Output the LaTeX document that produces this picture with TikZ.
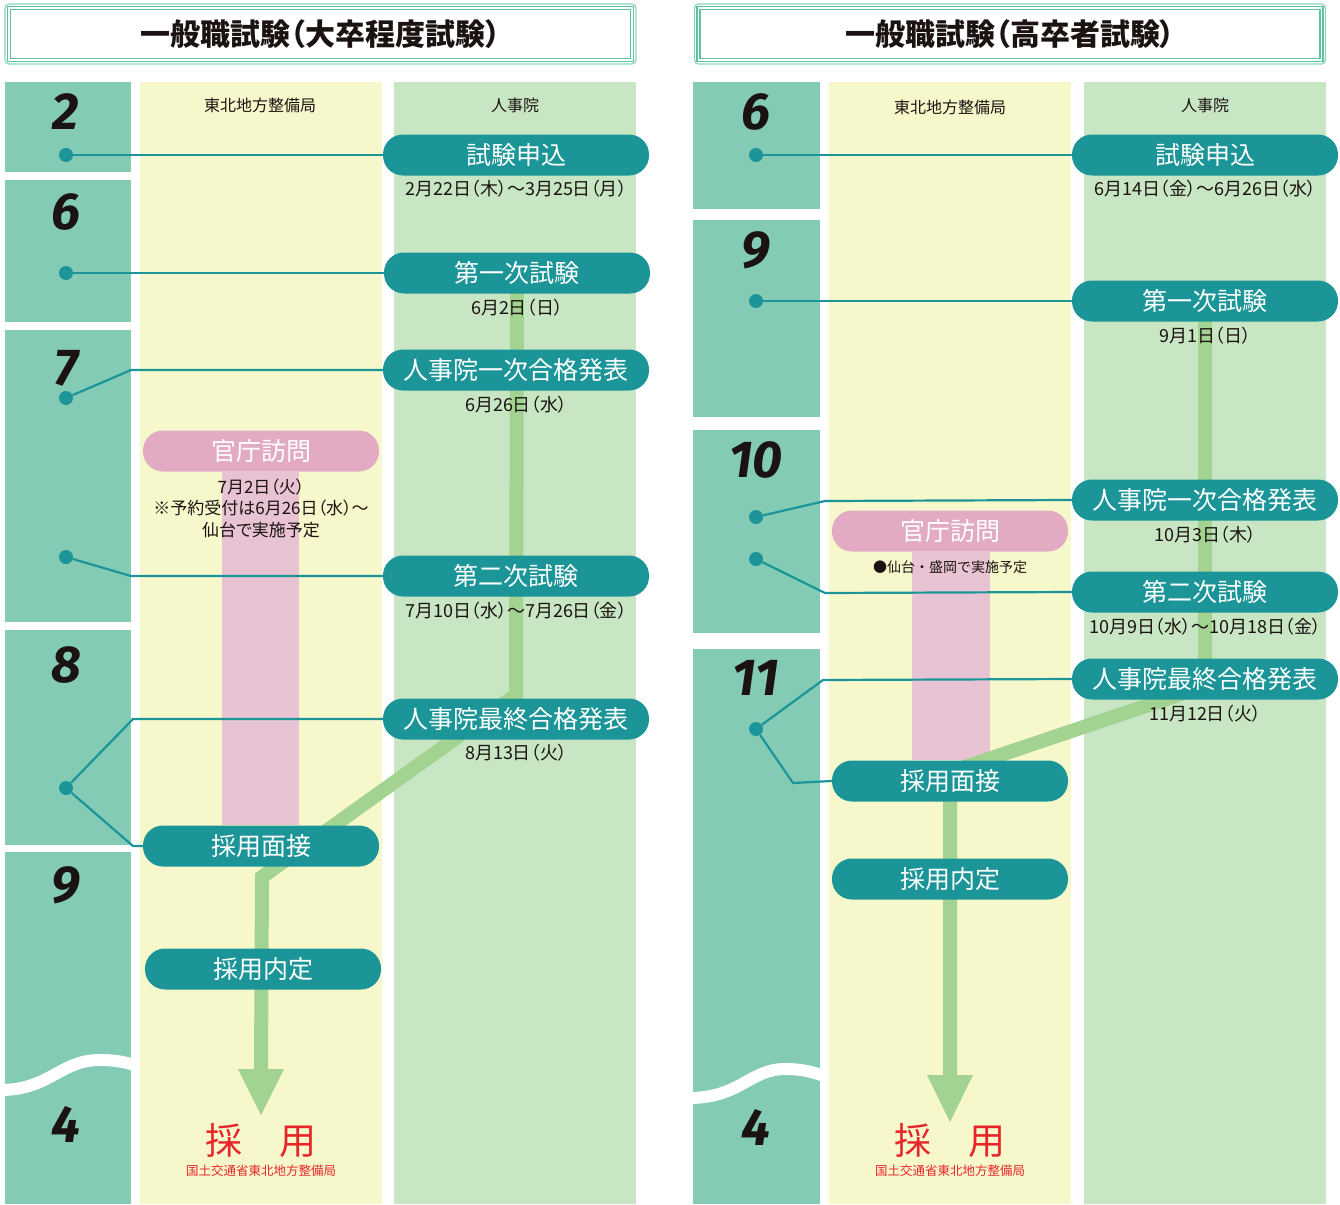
\documentclass[tikz,border=0pt]{standalone}
\usepackage{fontspec}
\setmainfont{Noto Sans CJK JP}[RawFeature=+palt]
\newfontfamily\numfont{Fira Sans}
\newfontfamily\plainfont{Noto Sans CJK JP}
\usetikzlibrary{arrows.meta, positioning}
\definecolor{monthBg}{HTML}{84CBB6}
\definecolor{colYellow}{HTML}{F6F8CC}
\definecolor{colGreen}{HTML}{C8E6C3}
\definecolor{pillTeal}{HTML}{1C9598}
\definecolor{pillPink}{HTML}{E2ABC3}
\definecolor{bandPink}{HTML}{E8C3D3}
\definecolor{flowGreen}{HTML}{A3D391}
\definecolor{frameGreen}{HTML}{5CC39A}
\definecolor{hireRed}{HTML}{E8262A}
\definecolor{inkText}{HTML}{1A1311}
\pgfdeclarelayer{base}
\pgfdeclarelayer{under}
\pgfsetlayers{base,under,main}

\begin{document}
\begin{tikzpicture}[
        x=1pt,
        y=-1pt,
        titleBox/.style={draw=frameGreen!70, line width=1.2pt, rounded corners=4pt,
            minimum width=631pt, minimum height=60pt, inner sep=0pt,
            font=\fontsize{30}{30}\selectfont\bfseries, text=inkText},
        frameIn/.style={draw=frameGreen, line width=1.5pt, double=white, double distance=1.5pt},
        monthNum/.style={font=\numfont\fontsize{52}{52}\selectfont\bfseries\itshape, text=inkText, inner sep=0pt},
        headText/.style={font=\fontsize{16}{16}\selectfont, text=inkText},
        tlDot/.style={circle, fill=pillTeal, minimum size=14pt, inner sep=0pt},
        pillBase/.style={rounded corners=20pt, minimum height=41pt, inner sep=0pt,
            text=white, font=\fontsize{25}{25}\selectfont},
        pillWide/.style={pillBase, fill=pillTeal, minimum width=266pt},
        pillNarrow/.style={pillBase, fill=pillTeal, minimum width=236pt},
        pillVisit/.style={pillBase, fill=pillPink, minimum width=236pt},
        dateText/.style={font=\fontsize{18}{21}\selectfont, text=inkText, inner sep=0pt, align=center},
        noteText/.style={font=\fontsize{17}{21.5}\selectfont, text=inkText, inner sep=0pt, align=center},
        conn/.style={draw=pillTeal, line width=2.2pt},
        flowLine/.style={draw=flowGreen, line width=14pt},
        band/.style={fill=bandPink},
        hireText/.style={text=hireRed, font=\fontsize{37}{37}\selectfont, inner sep=0pt},
        hireSub/.style={text=hireRed, font=\fontsize{12.5}{12.5}\selectfont, inner sep=0pt},
        waveCut/.style={draw=white, line width=12pt}
    ]
        \useasboundingbox (0,0) rectangle (1340,1204);

        % columns
        \begin{pgfonlayer}{base}
            \foreach \ya/\yb in {82/172, 180/322, 330/622, 630/845, 852/1204}
                \fill[monthBg] (5,\ya) rectangle (131,\yb);
            \foreach \ya/\yb in {82/209, 220/417, 430/633, 649/1204}
                \fill[monthBg] (693,\ya) rectangle (820,\yb);
            \fill[colYellow] (140,82) rectangle (382,1204);
            \fill[colGreen] (394,82) rectangle (636,1204);
            \fill[colYellow] (829,82) rectangle (1071,1204);
            \fill[colGreen] (1084,82) rectangle (1326,1204);
            \draw[waveCut] (0,1090) .. controls (50,1090) and (60,1060) .. (100,1060)
                .. controls (118,1060) and (128,1063) .. (138,1066);
            \draw[waveCut] (689,1098) .. controls (740,1098) and (750,1069) .. (785,1069)
                .. controls (805,1069) and (815,1073) .. (827,1077);
        \end{pgfonlayer}

        \node[titleBox] (titleL) at (320.5,34) {一般職試験（大卒程度試験）};
        \draw[frameIn] ([shift={(4.5,4.5)}]titleL.north west) rectangle ([shift={(-4.5,-4.5)}]titleL.south east);
        \node[titleBox] (titleR) at (1010,34) {一般職試験（高卒者試験）};
        \draw[frameIn] ([shift={(4.5,4.5)}]titleR.north west) rectangle ([shift={(-4.5,-4.5)}]titleR.south east);

        \foreach \y/\m in {112/2, 212/6, 368/7, 665/8, 885/9, 1124/4}
            \node[monthNum] (mL\m) at (66,\y) {\m};
        \foreach \y/\m in {112/6, 250/9, 460/10, 678/11, 1127/4}
            \node[monthNum] (mR\m) at (756,\y) {\m};

        \node[headText] (staffL) at (260,105) {東北地方整備局};
        \node[headText] (npaL) at (515,105) {人事院};
        \node[headText] (staffR) at (950,107) {東北地方整備局};
        \node[headText] (npaR) at (1205,105) {人事院};

        % left: 大卒程度
        \node[tlDot] (dL2) at (66,155) {};
        \node[tlDot] (dL6) at (66,273) {};
        \node[tlDot] (dL7a) at (66,398) {};
        \node[tlDot] (dL7b) at (66,557) {};
        \node[tlDot] (dL8) at (66,788) {};

        \node[pillWide] (applyL) at (516,155) {試験申込};
        \node[dateText, below=4pt of applyL] (applyDateL) {2月22日（木）～3月25日（月）};
        \node[pillWide] (exam1L) at (517,273) {第一次試験};
        \node[dateText, below=5pt of exam1L] (exam1DateL) {6月2日（日）};
        \node[pillWide] (pass1L) at (516,370) {人事院一次合格発表};
        \node[dateText, below=5pt of pass1L] (pass1DateL) {6月26日（水）};
        \node[pillWide] (exam2L) at (516,576) {第二次試験};
        \node[dateText, below=5pt of exam2L] (exam2DateL) {7月10日（水）～7月26日（金）};
        \node[pillWide] (passFinalL) at (516,719) {人事院最終合格発表};
        \node[dateText, below=4pt of passFinalL] (passFinalDateL) {8月13日（火）};

        \node[pillVisit] (visitL) at (261,451) {官庁訪問};
        \node[noteText, below=7pt of visitL] (visitNoteL)
            {7月2日（火）\\※予約受付は6月26日（水）～\\仙台で実施予定};
        \node[pillNarrow] (interviewL) at (261,846) {採用面接};
        \node[pillNarrow] (offerL) at (263,969) {採用内定};
        \node[hireText] (hireL) at (261,1141) {採　用};
        \node[hireSub] (hireOrgL) at (261,1171) {国土交通省東北地方整備局};
        \coordinate (tipTopL) at (261,1069);
        \coordinate (tipL) at (261,1115);

        \begin{pgfonlayer}{under}
            \fill[band] ([xshift=-39pt]visitL.south) rectangle ([xshift=38pt]interviewL.north);
            \draw[flowLine] (exam1L.center) -- (516,695) -- (262,877) -- (tipTopL);
            \fill[flowGreen] ([xshift=-23pt]tipTopL) -- ([xshift=23pt]tipTopL) -- (tipL) -- cycle;
        \end{pgfonlayer}

        \draw[conn] (dL2) -- (applyL.west);
        \draw[conn] (dL6) -- (exam1L.west);
        \draw[conn] (dL7a) -- (131,370) -- (pass1L.west);
        \draw[conn] (dL7b) -- (131,576) -- (exam2L.west);
        \draw[conn] (dL8) -- (133,719) -- (passFinalL.west);
        \draw[conn] (dL8) -- (133,846) -- (interviewL.west);

        % right: 高卒者
        \node[tlDot] (dR6) at (756,155) {};
        \node[tlDot] (dR9) at (756,301) {};
        \node[tlDot] (dR10a) at (756,517) {};
        \node[tlDot] (dR10b) at (756,559) {};
        \node[tlDot] (dR11) at (756,729) {};

        \node[pillWide] (applyR) at (1205,155) {試験申込};
        \node[dateText, below=4pt of applyR] (applyDateR) {6月14日（金）～6月26日（水）};
        \node[pillWide] (exam1R) at (1205,301) {第一次試験};
        \node[dateText, below=5pt of exam1R] (exam1DateR) {9月1日（日）};
        \node[pillWide] (pass1R) at (1205,500) {人事院一次合格発表};
        \node[dateText, below=5pt of pass1R] (pass1DateR) {10月3日（木）};
        \node[pillWide] (exam2R) at (1205,592) {第二次試験};
        \node[dateText, below=5pt of exam2R] (exam2DateR) {10月9日（水）～10月18日（金）};
        \node[pillWide] (passFinalR) at (1205,679) {人事院最終合格発表};
        \node[dateText, below=5pt of passFinalR] (passFinalDateR) {11月12日（火）};

        \node[pillVisit] (visitR) at (950,531) {官庁訪問};
        \node[noteText, font=\plainfont\fontsize{14}{14}\selectfont, below=9pt of visitR] (visitNoteR) {●仙台・盛岡で実施予定};
        \node[pillNarrow] (interviewR) at (950,781) {採用面接};
        \node[pillNarrow] (offerR) at (950,879) {採用内定};
        \node[hireText] (hireR) at (950,1141) {採　用};
        \node[hireSub] (hireOrgR) at (950,1171) {国土交通省東北地方整備局};
        \coordinate (tipTopR) at (950,1075);
        \coordinate (tipR) at (950,1122);

        \begin{pgfonlayer}{under}
            \fill[band] ([xshift=-38pt]visitR.south) rectangle ([xshift=40pt]interviewR.north);
            \draw[flowLine] (exam1R.center) -- (1205,686) -- (950,772) -- (tipTopR);
            \fill[flowGreen] ([xshift=-23pt]tipTopR) -- ([xshift=23pt]tipTopR) -- (tipR) -- cycle;
        \end{pgfonlayer}

        \draw[conn] (dR6) -- (applyR.west);
        \draw[conn] (dR9) -- (exam1R.west);
        \draw[conn] (dR10a) -- (825,501) -- (pass1R.west);
        \draw[conn] (dR10b) -- (825,593) -- (exam2R.west);
        \draw[conn] (dR11) -- (823,680) -- (passFinalR.west);
        \draw[conn] (dR11) -- (793,783) -- (interviewR.west);
    \end{tikzpicture}
\end{document}
